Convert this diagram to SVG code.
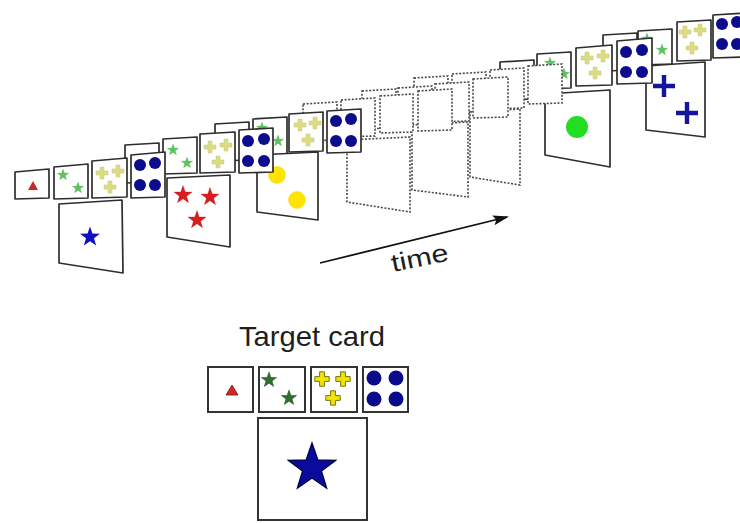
<svg xmlns="http://www.w3.org/2000/svg" xmlns:xlink="http://www.w3.org/1999/xlink" width="740" height="523" viewBox="0 0 740 523">
<style>
.card{fill:#fff;stroke:#2e2e2e;stroke-width:1.7;stroke-linejoin:round}
.dcard{fill:#fff;stroke:#4a4a4a;stroke-width:1.6;stroke-dasharray:2 1.6}
.gstar{fill:#5ec45e;stroke:#4a9a4a;stroke-width:0.4}
.ycross{fill:#dcdc84;stroke:#c4c470;stroke-width:0.5}
.bdot{fill:#0c0c8e}
.rstar{fill:#dc1c1c;stroke:#a01010;stroke-width:0.3}
.tcard{fill:#fff;stroke:#333;stroke-width:2}
.label{font-family:"Liberation Sans",Arial,sans-serif;fill:#1e1e1e}
</style>
<defs>
<path id="star" d="M0,-10 L2.35,-3.24 L9.51,-3.09 L3.8,1.24 L5.88,8.09 L0,4 L-5.88,8.09 L-3.8,1.24 L-9.51,-3.09 L-2.35,-3.24 Z"/>
<path id="cross" d="M-2,-6H2V-2H6V2H2V6H-2V2H-6V-2H-2Z"/>
<path id="bcross" d="M-2.2,-11H2.2V-2.2H11V2.2H2.2V11H-2.2V2.2H-11V-2.2H-2.2Z"/>
<marker id="arrow" markerUnits="userSpaceOnUse" markerWidth="16" markerHeight="10" refX="14" refY="5" orient="auto">
<path d="M0,0 L16,5 L0,10 L3,5 Z" fill="#111"/>
</marker>
</defs>

<!-- Trial 9 (furthest) -->
<g id="trial9">
<polygon class="card" points="603,35 637,33 637,70 603,71"/>
<polygon class="card" points="638,31 672,29 672,64 638,65"/>
<use href="#star" class="gstar" transform="translate(647,39) scale(0.6)"/>
<use href="#star" class="gstar" transform="translate(662,50) scale(0.6)"/>
<polygon class="card" points="677,22 711,20 711,60 677,61"/>
<use href="#cross" class="ycross" transform="translate(685,32)"/>
<use href="#cross" class="ycross" transform="translate(700,30)"/>
<use href="#cross" class="ycross" transform="translate(692,48)"/>
<polygon class="card" points="713,15 747,13 747,57 713,58"/>
<circle class="bdot" cx="722" cy="24" r="6"/><circle class="bdot" cx="737" cy="22" r="6"/>
<circle class="bdot" cx="722" cy="44" r="6"/><circle class="bdot" cx="737" cy="44" r="6"/>
<polygon class="card" points="646,66 705,62 705,137 646,130"/>
<use href="#bcross" fill="#14149e" transform="translate(664,86)"/>
<use href="#bcross" fill="#14149e" transform="translate(687,113)"/>
</g>

<!-- Trial 8 -->
<g id="trial8">
<polygon class="card" points="500,62 534,60 534,99 500,100"/>
<polygon class="card" points="537,54 571,52 571,88 537,89"/>
<use href="#star" class="gstar" transform="translate(550,63) scale(0.6)"/>
<use href="#star" class="gstar" transform="translate(564,74) scale(0.6)"/>
<polygon class="card" points="576,48 612,45 612,85 576,86"/>
<use href="#cross" class="ycross" transform="translate(587,58)"/>
<use href="#cross" class="ycross" transform="translate(603,56)"/>
<use href="#cross" class="ycross" transform="translate(595,73)"/>
<polygon class="card" points="617,41 652,38 652,83 617,84"/>
<circle class="bdot" cx="626" cy="52" r="6"/><circle class="bdot" cx="642" cy="50" r="6"/>
<circle class="bdot" cx="626" cy="72" r="6"/><circle class="bdot" cx="642" cy="72" r="6"/>
<polygon class="card" points="545,94 610,90 610,167 545,155"/>
<circle cx="577" cy="127" r="11" fill="#22dd22"/>
</g>

<!-- Dotted trial 3 -->
<g id="dtrial3">
<polygon class="dcard" points="414,78 448,76 448,115 414,116"/>
<polygon class="dcard" points="452,74 486,72 486,112 452,113"/>
<polygon class="dcard" points="490,70 524,68 524,108 490,109"/>
<polygon class="dcard" points="528,66 562,64 562,103 528,104"/>
<polygon class="dcard" points="470,112 520,109 520,185 470,177"/>
</g>

<!-- Dotted trial 2 -->
<g id="dtrial2">
<polygon class="dcard" points="362,91 396,89 396,128 362,129"/>
<polygon class="dcard" points="398,88 432,86 432,125 398,126"/>
<polygon class="dcard" points="435,84 469,82 469,121 435,122"/>
<polygon class="dcard" points="473,79 508,77 508,117 473,118"/>
<polygon class="dcard" points="412,125 468,122 468,197 412,190"/>
</g>

<!-- Dotted trial 1 -->
<g id="dtrial1">
<polygon class="dcard" points="303,104 337,102 337,140 303,141"/>
<polygon class="dcard" points="341,100 375,98 375,136 341,137"/>
<polygon class="dcard" points="380,96 413,94 413,132 380,133"/>
<polygon class="dcard" points="418,91 452,89 452,130 418,131"/>
<polygon class="dcard" points="347,140 410,137 410,212 347,202"/>
</g>

<!-- Trial 3 -->
<g id="trial3">
<polygon class="card" points="215,124 249,122 249,160 215,161"/>
<polygon class="card" points="253,119 287,117 287,156 253,157"/>
<use href="#star" class="gstar" transform="translate(262,128) scale(0.6)"/>
<use href="#star" class="gstar" transform="translate(278,141) scale(0.6)"/>
<polygon class="card" points="289,114 323,112 323,151 289,152"/>
<use href="#cross" class="ycross" transform="translate(300,125)"/>
<use href="#cross" class="ycross" transform="translate(315,123)"/>
<use href="#cross" class="ycross" transform="translate(308,140)"/>
<polygon class="card" points="327,111 361,109 361,152 327,153"/>
<circle class="bdot" cx="336" cy="121" r="6"/><circle class="bdot" cx="351" cy="119" r="6"/>
<circle class="bdot" cx="336" cy="141" r="6"/><circle class="bdot" cx="351" cy="141" r="6"/>
<polygon class="card" points="257,155 318,152 318,220 257,212"/>
<circle cx="277" cy="175" r="8.5" fill="#ffe400" stroke="#f0d800" stroke-width="0.5"/>
<circle cx="297" cy="200" r="8.5" fill="#ffe400" stroke="#f0d800" stroke-width="0.5"/>
</g>

<!-- Trial 2 -->
<g id="trial2">
<polygon class="card" points="125,145 159,143 159,182 125,183"/>
<polygon class="card" points="163,139 197,137 197,173 163,174"/>
<use href="#star" class="gstar" transform="translate(173,150) scale(0.6)"/>
<use href="#star" class="gstar" transform="translate(187,163) scale(0.6)"/>
<polygon class="card" points="200,134 235,132 235,172 200,173"/>
<use href="#cross" class="ycross" transform="translate(210,147)"/>
<use href="#cross" class="ycross" transform="translate(226,145)"/>
<use href="#cross" class="ycross" transform="translate(218,162)"/>
<polygon class="card" points="239,130 273,128 273,172 239,173"/>
<circle class="bdot" cx="248" cy="141" r="6"/><circle class="bdot" cx="264" cy="139" r="6"/>
<circle class="bdot" cx="248" cy="161" r="6"/><circle class="bdot" cx="264" cy="161" r="6"/>
<polygon class="card" points="167,178 230,175 230,247 167,237"/>
<use href="#star" class="rstar" transform="translate(183,195) scale(0.95)"/>
<use href="#star" class="rstar" transform="translate(210,197) scale(0.95)"/>
<use href="#star" class="rstar" transform="translate(197,220) scale(0.95)"/>
</g>

<!-- Trial 1 (nearest) -->
<g id="trial1">
<polygon class="card" points="15,172 49,169 49,198 15,199"/>
<polygon points="28,190 38,190 33,181" fill="#c82828"/>
<polygon class="card" points="54,167 88,164 88,198 54,199"/>
<use href="#star" class="gstar" transform="translate(63,175) scale(0.6)"/>
<use href="#star" class="gstar" transform="translate(78,188) scale(0.6)"/>
<polygon class="card" points="92,161 127,158 127,197 92,198"/>
<use href="#cross" class="ycross" transform="translate(102,173)"/>
<use href="#cross" class="ycross" transform="translate(118,171)"/>
<use href="#cross" class="ycross" transform="translate(110,187)"/>
<polygon class="card" points="131,155 165,152 165,197 131,198"/>
<circle class="bdot" cx="140" cy="165" r="6"/><circle class="bdot" cx="155" cy="163" r="6"/>
<circle class="bdot" cx="140" cy="185" r="6"/><circle class="bdot" cx="155" cy="185" r="6"/>
<polygon class="card" points="59,204 122,200 123,273 59,263"/>
<use href="#star" fill="#1010c0" transform="translate(90,237) scale(1.05)"/>
</g>

<!-- Time arrow -->
<g id="connectors">
<line x1="320" y1="263" x2="507" y2="217" stroke="#111" stroke-width="1.8" marker-end="url(#arrow)"/>
</g>
<text class="label" x="393" y="272" font-size="25" textLength="58" lengthAdjust="spacingAndGlyphs" transform="rotate(-11.5 393 272)">time</text>

<!-- Target card -->
<g id="target">
<text class="label" x="239" y="346" font-size="28" textLength="146" lengthAdjust="spacingAndGlyphs">Target card</text>
<rect class="tcard" x="208" y="367" width="45" height="45"/>
<polygon points="226,395 238,395 232,385" fill="#d02828" stroke="#801010" stroke-width="0.8"/>
<rect class="tcard" x="259" y="367" width="46" height="45"/>
<use href="#star" fill="#2f6e2f" stroke="#1a3a1a" stroke-width="0.6" transform="translate(269,380) scale(0.8)"/>
<use href="#star" fill="#2f6e2f" stroke="#1a3a1a" stroke-width="0.6" transform="translate(289,398) scale(0.8)"/>
<rect class="tcard" x="311" y="367" width="46" height="45"/>
<use href="#cross" fill="#f2e400" stroke="#707010" stroke-width="0.8" transform="translate(322,379) scale(1.2)"/>
<use href="#cross" fill="#f2e400" stroke="#707010" stroke-width="0.8" transform="translate(343,379) scale(1.2)"/>
<use href="#cross" fill="#f2e400" stroke="#707010" stroke-width="0.8" transform="translate(333,398) scale(1.2)"/>
<rect class="tcard" x="363" y="367" width="45" height="45"/>
<circle cx="374" cy="378" r="7.5" fill="#0a0a8c"/><circle cx="396" cy="378" r="7.5" fill="#0a0a8c"/>
<circle cx="374" cy="399" r="7.5" fill="#0a0a8c"/><circle cx="396" cy="399" r="7.5" fill="#0a0a8c"/>
<rect class="tcard" x="258" y="418" width="109" height="102"/>
<use href="#star" fill="#0a0a9c" stroke="#000040" stroke-width="0.5" transform="translate(312,468) scale(2.5)"/>
</g>
</svg>
